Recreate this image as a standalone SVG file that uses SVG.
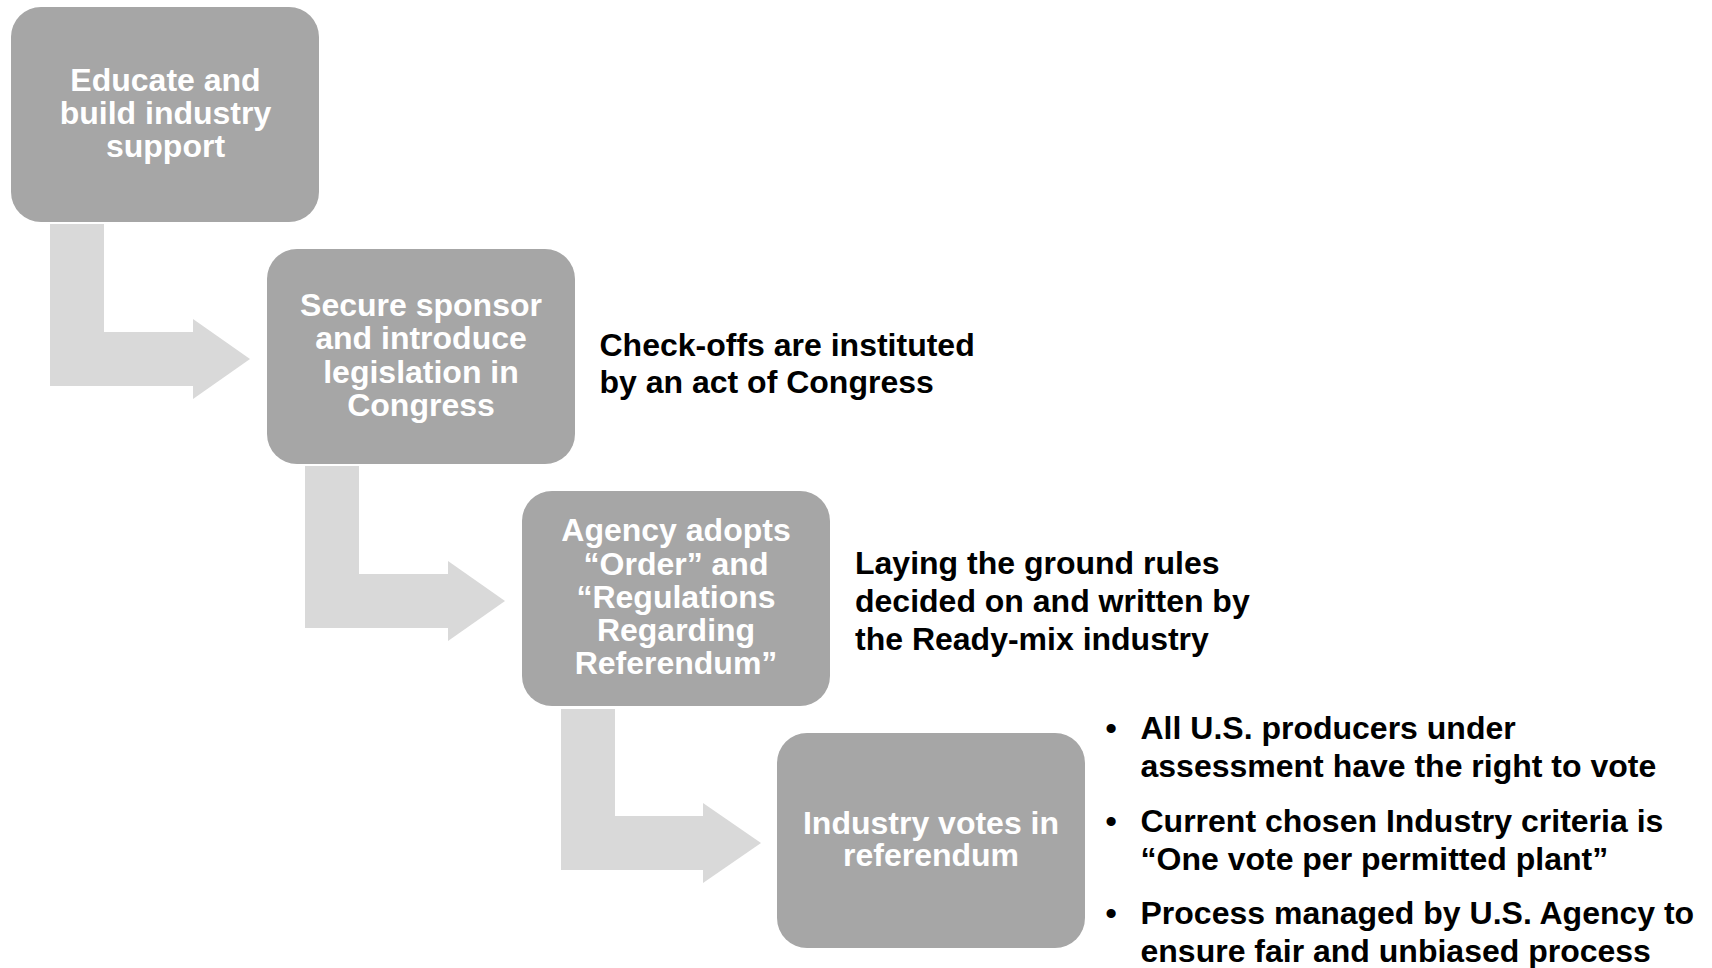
<svg xmlns="http://www.w3.org/2000/svg" width="1712" height="968" viewBox="0 0 1712 968">
  <style>
    .box { fill: #a6a6a6; }
    .arrow { fill: #d9d9d9; }
    .wt { font-family: "Liberation Sans", Arial, sans-serif; font-weight: bold; font-size: 32px; fill: #ffffff; text-anchor: middle; }
    .bt { font-family: "Liberation Sans", Arial, sans-serif; font-weight: bold; font-size: 32px; fill: #000000; }
  </style>
  <rect width="1712" height="968" fill="#ffffff"/>
  <g id="connectors">
    <path class="arrow" d="M50,224 H104 V332 H193 V319 L250,359 L193,399 V386 H50 Z"/>
    <path class="arrow" d="M305,466 H359 V574 H448 V561 L505,601 L448,641 V628 H305 Z"/>
    <path class="arrow" d="M561,709 H615 V816 H703 V803 L761,843 L703,883 V870 H561 Z"/>
  </g>
  <g id="node1">
    <rect class="box" x="11" y="7" width="308" height="215" rx="30"/>
    <text class="wt" x="165.5" y="90.7">Educate and</text>
    <text class="wt" x="165.5" y="123.7">build industry</text>
    <text class="wt" x="165.5" y="156.7">support</text>
  </g>
  <g id="node2">
    <rect class="box" x="267" y="249" width="308" height="215" rx="30"/>
    <text class="wt" x="421" y="316">Secure sponsor</text>
    <text class="wt" x="421" y="349">and introduce</text>
    <text class="wt" x="421" y="382.5">legislation in</text>
    <text class="wt" x="421" y="415.5">Congress</text>
  </g>
  <g id="node3">
    <rect class="box" x="522" y="491" width="308" height="215" rx="30"/>
    <text class="wt" x="676" y="541">Agency adopts</text>
    <text class="wt" x="676" y="574.5">“Order” and</text>
    <text class="wt" x="676" y="607.5">“Regulations</text>
    <text class="wt" x="676" y="641">Regarding</text>
    <text class="wt" x="676" y="674">Referendum”</text>
  </g>
  <g id="node4">
    <rect class="box" x="777" y="733" width="308" height="215" rx="30"/>
    <text class="wt" x="931" y="833.5">Industry votes in</text>
    <text class="wt" x="931" y="866">referendum</text>
  </g>
  <g id="note1">
    <text class="bt" x="599.5" y="355.5">Check-offs are instituted</text>
    <text class="bt" x="599.5" y="393">by an act of Congress</text>
  </g>
  <g id="note2">
    <text class="bt" x="855" y="574">Laying the ground rules</text>
    <text class="bt" x="855" y="612">decided on and written by</text>
    <text class="bt" x="855" y="650">the Ready-mix industry</text>
  </g>
  <g id="note3">
    <text class="bt" x="1105.5" y="739">•</text>
    <text class="bt" x="1140.5" y="739">All U.S. producers under</text>
    <text class="bt" x="1140.5" y="777">assessment have the right to vote</text>
    <text class="bt" x="1105.5" y="832">•</text>
    <text class="bt" x="1140.5" y="832">Current chosen Industry criteria is</text>
    <text class="bt" x="1140.5" y="870">“One vote per permitted plant”</text>
    <text class="bt" x="1105.5" y="924">•</text>
    <text class="bt" x="1140.5" y="924">Process managed by U.S. Agency to</text>
    <text class="bt" x="1140.5" y="962">ensure fair and unbiased process</text>
  </g>
</svg>
